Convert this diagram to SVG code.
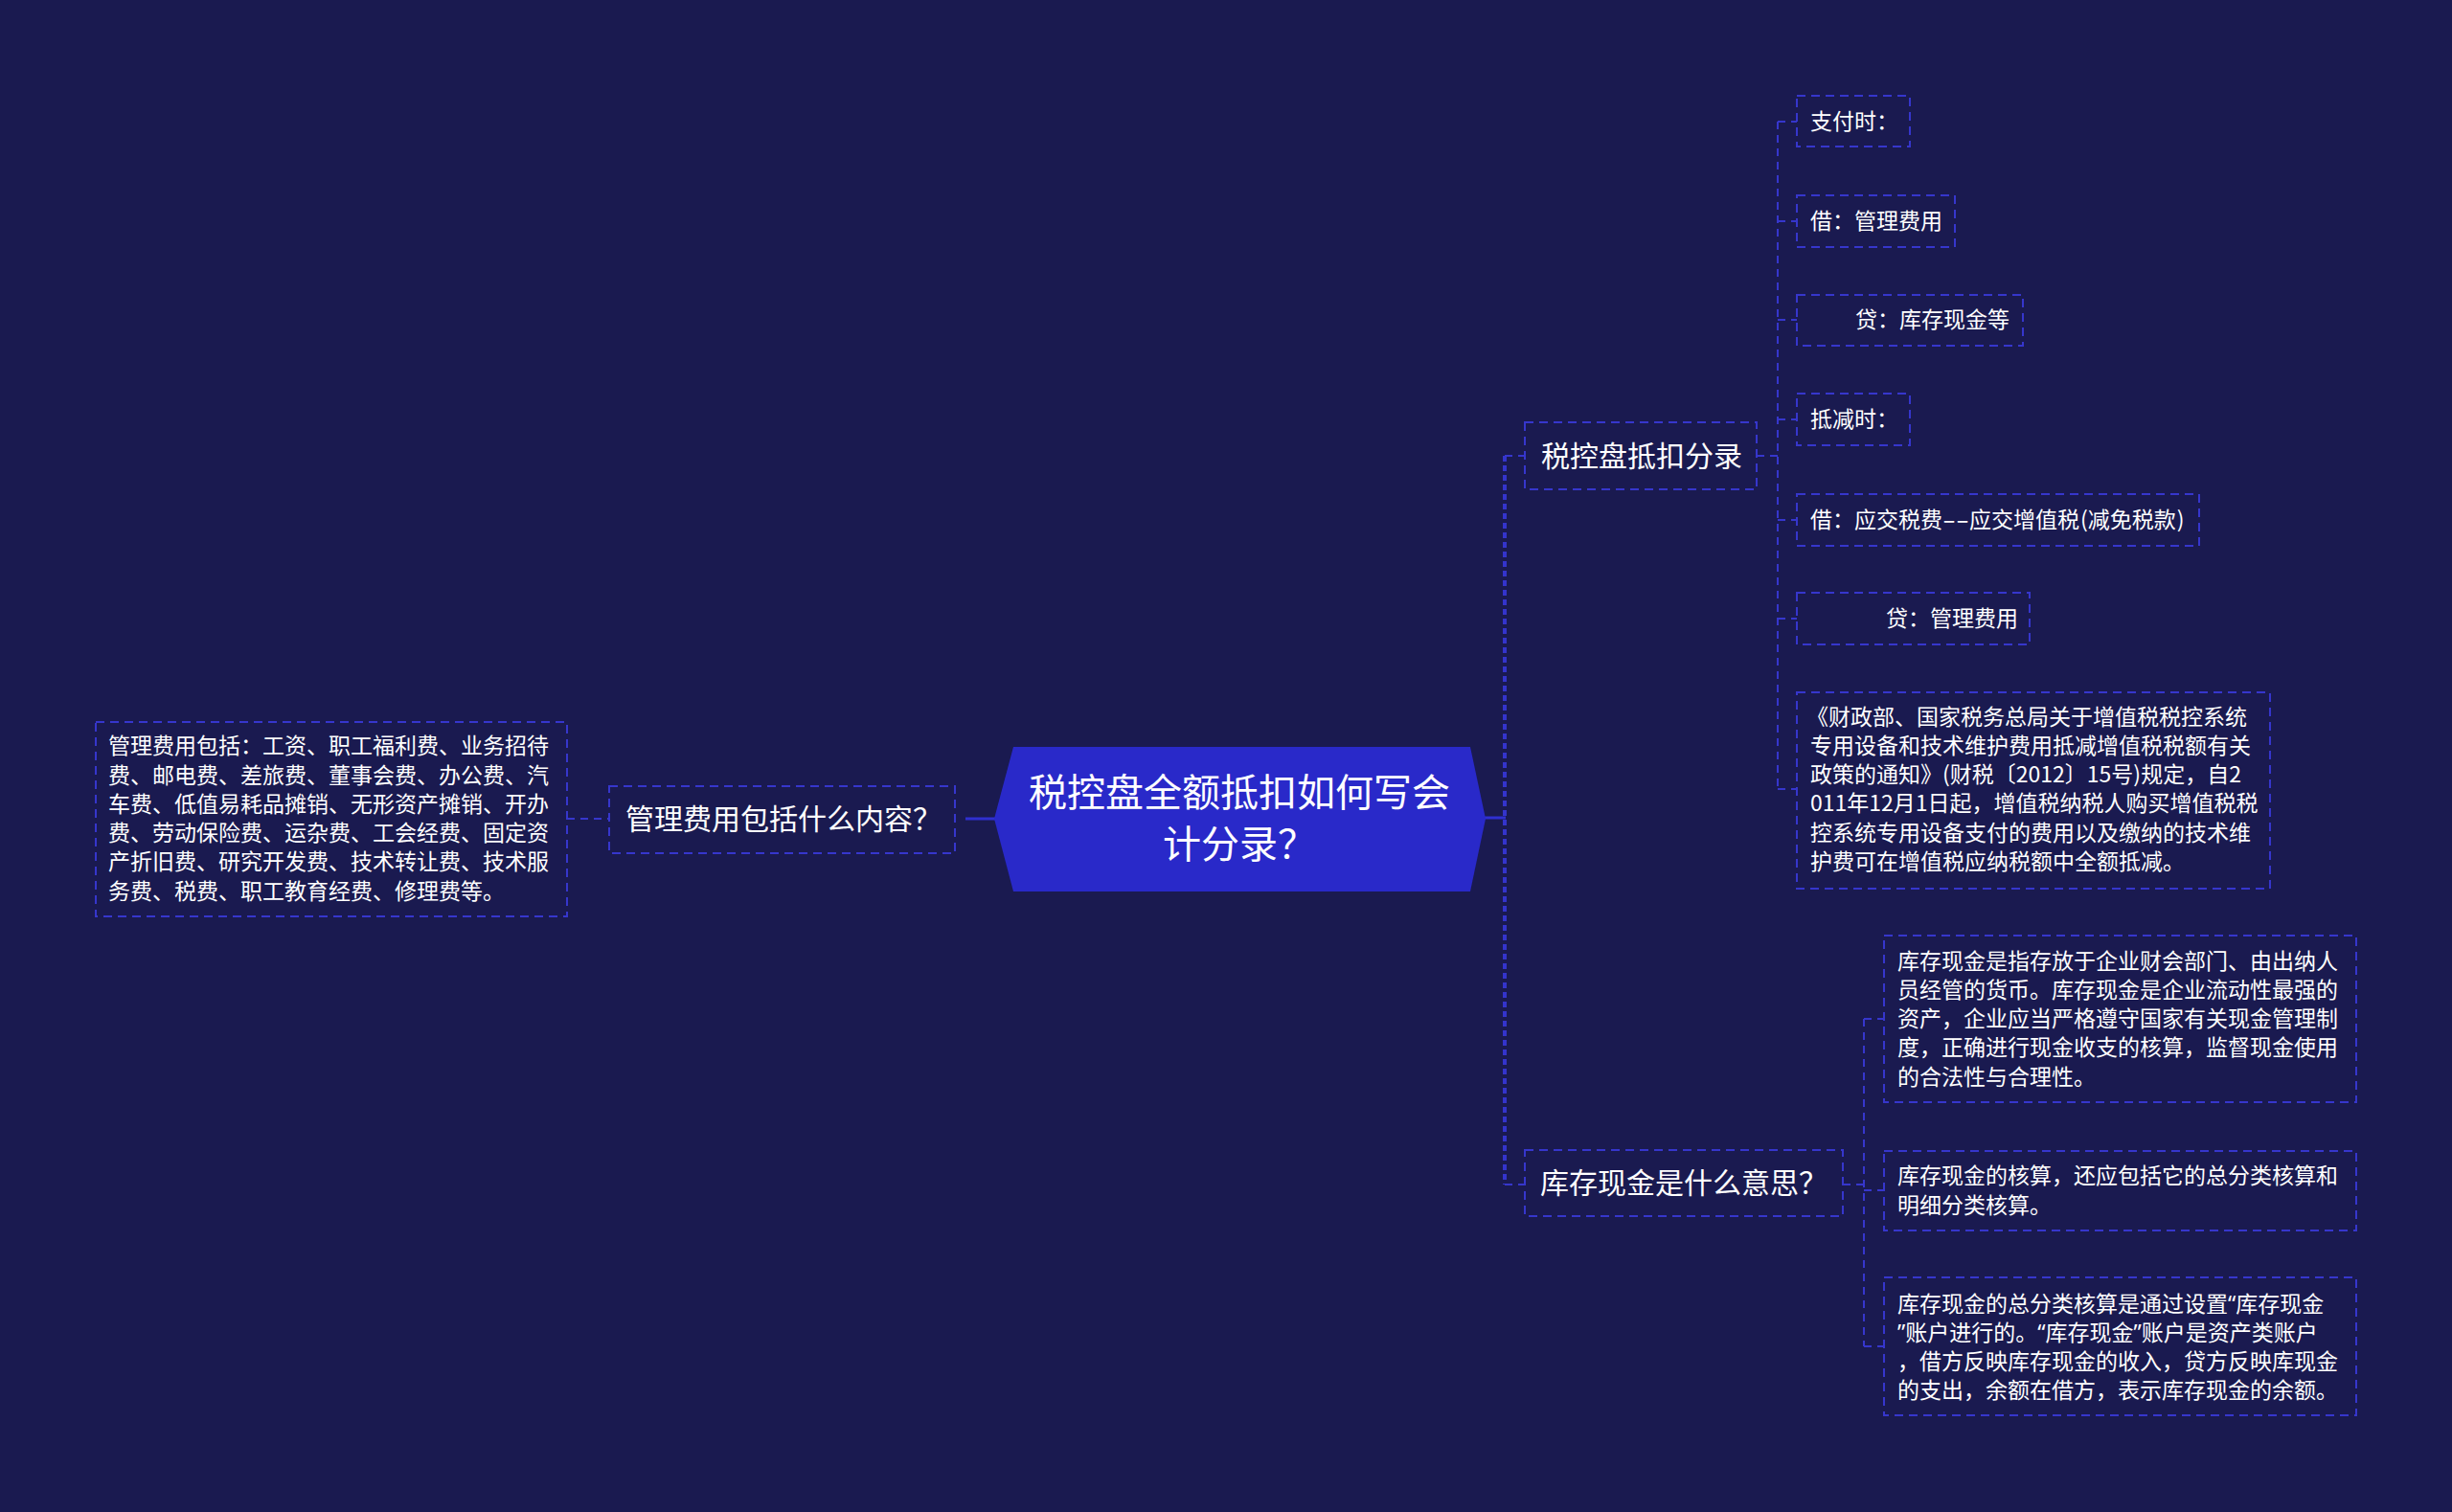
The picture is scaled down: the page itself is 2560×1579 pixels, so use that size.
<svg xmlns="http://www.w3.org/2000/svg" width="2560" height="1579" viewBox="0 0 2560 1579">
<style>
text{font-family:"Noto Sans CJK SC","Noto Sans",sans-serif;fill:#ffffff;}
.q{font-family:"Noto Sans","Liberation Sans",sans-serif;}
.box{fill:#1a1a50;stroke:#3636cc;stroke-width:2;stroke-dasharray:9 6;}
.t23{font-size:23px;}
.t30{font-size:30px;}
.t40{font-size:40px;}
.con{fill:none;stroke:#3636cc;stroke-width:2;stroke-dasharray:8 6;}
.spine{fill:none;stroke:#3434cc;stroke-width:4;stroke-dasharray:6 4;}
.solid{fill:none;stroke:#2f2fd0;stroke-width:3;}
</style>
<rect x="0" y="0" width="2560" height="1579" fill="#1a1a50"/>
<g id="connectors">
<line class="solid" x1="1008" y1="855" x2="1040" y2="855"/>
<line class="con" x1="592" y1="855" x2="636" y2="855"/>
<line class="solid" x1="1550" y1="854" x2="1572" y2="854"/>
<line class="spine" x1="1571" y1="476" x2="1571" y2="1237"/>
<line class="con" x1="1571" y1="476" x2="1592" y2="476"/>
<line class="con" x1="1571" y1="1237" x2="1592" y2="1237"/>
<line class="con" x1="1834" y1="476" x2="1856" y2="476"/>
<line class="con" x1="1856" y1="127" x2="1856" y2="824"/>
<line class="con" x1="1856" y1="127" x2="1876" y2="127"/>
<line class="con" x1="1856" y1="231" x2="1876" y2="231"/>
<line class="con" x1="1856" y1="334" x2="1876" y2="334"/>
<line class="con" x1="1856" y1="438" x2="1876" y2="438"/>
<line class="con" x1="1856" y1="543" x2="1876" y2="543"/>
<line class="con" x1="1856" y1="646" x2="1876" y2="646"/>
<line class="con" x1="1856" y1="824" x2="1876" y2="824"/>
<line class="con" x1="1924" y1="1237" x2="1946" y2="1237"/>
<line class="con" x1="1946" y1="1064" x2="1946" y2="1406"/>
<line class="con" x1="1946" y1="1064" x2="1967" y2="1064"/>
<line class="con" x1="1946" y1="1243" x2="1967" y2="1243"/>
<line class="con" x1="1946" y1="1406" x2="1967" y2="1406"/>
</g>
<g id="root">
<polygon points="1038,855 1058,780 1535,780 1551,855 1535,931 1058,931" fill="#2929c9"/>
<text class="t40" x="1294" y="842" text-anchor="middle">税控盘全额抵扣如何写会</text>
<text class="t40" x="1294" y="896" text-anchor="middle">计分录？</text>
</g>
<g id="n-guanli">
<rect class="box" x="636" y="821" width="361" height="70"/>
<text class="t30" x="653" y="866">管理费用包括什么内容？</text>
</g>
<g id="n-guanli-detail">
<rect class="box" x="100" y="754" width="492" height="203"/>
<text class="t23" x="113">
<tspan x="113" y="787">管理费用包括：工资、职工福利费、业务招待</tspan>
<tspan x="113" y="818">费、邮电费、差旅费、董事会费、办公费、汽</tspan>
<tspan x="113" y="848">车费、低值易耗品摊销、无形资产摊销、开办</tspan>
<tspan x="113" y="878">费、劳动保险费、运杂费、工会经费、固定资</tspan>
<tspan x="113" y="908">产折旧费、研究开发费、技术转让费、技术服</tspan>
<tspan x="113" y="939">务费、税费、职工教育经费、修理费等。</tspan>
</text>
</g>
<g id="n-shuikong">
<rect class="box" x="1592" y="441" width="242" height="70"/>
<text class="t30" x="1609" y="487">税控盘抵扣分录</text>
</g>
<g id="n-zhifu">
<rect class="box" x="1876" y="100" width="118" height="53"/>
<text class="t23" x="1890" y="135">支付时：</text>
</g>
<g id="n-jie1">
<rect class="box" x="1876" y="204" width="165" height="54"/>
<text class="t23" x="1890" y="239">借：管理费用</text>
</g>
<g id="n-dai1">
<rect class="box" x="1876" y="308" width="236" height="53"/>
<text class="t23" x="1937" y="342">贷：库存现金等</text>
</g>
<g id="n-dijian">
<rect class="box" x="1876" y="411" width="118" height="54"/>
<text class="t23" x="1890" y="446">抵减时：</text>
</g>
<g id="n-jie2">
<rect class="box" x="1876" y="516" width="420" height="54"/>
<text class="t23" x="1890" y="551">借：应交税费<tspan textLength="28" lengthAdjust="spacingAndGlyphs">--</tspan>应交增值税<tspan dx="1">(</tspan>减免税款<tspan dx="1">)</tspan></text>
</g>
<g id="n-dai2">
<rect class="box" x="1876" y="619" width="243" height="54"/>
<text class="t23" x="1969" y="654">贷：管理费用</text>
</g>
<g id="n-caizheng">
<rect class="box" x="1876" y="723" width="494" height="205"/>
<text class="t23">
<tspan x="1886" y="757">《财政部、国家税务总局关于增值税税控系统</tspan>
<tspan x="1890" y="787">专用设备和技术维护费用抵减增值税税额有关</tspan>
<tspan x="1890" y="817">政策的通知》(财税〔2012〕15号)规定，自2</tspan>
<tspan x="1890" y="847">011年12月1日起，增值税纳税人购买增值税税</tspan>
<tspan x="1890" y="878">控系统专用设备支付的费用以及缴纳的技术维</tspan>
<tspan x="1890" y="908">护费可在增值税应纳税额中全额抵减。</tspan>
</text>
</g>
<g id="n-kucun">
<rect class="box" x="1592" y="1201" width="332" height="69"/>
<text class="t30" x="1608" y="1246">库存现金是什么意思？</text>
</g>
<g id="n-kucun-a">
<rect class="box" x="1967" y="977" width="493" height="174"/>
<text class="t23">
<tspan x="1981" y="1012">库存现金是指存放于企业财会部门、由出纳人</tspan>
<tspan x="1981" y="1042">员经管的货币。库存现金是企业流动性最强的</tspan>
<tspan x="1981" y="1072">资产，企业应当严格遵守国家有关现金管理制</tspan>
<tspan x="1981" y="1102">度，正确进行现金收支的核算，监督现金使用</tspan>
<tspan x="1981" y="1133">的合法性与合理性。</tspan>
</text>
</g>
<g id="n-kucun-b">
<rect class="box" x="1967" y="1202" width="493" height="83"/>
<text class="t23">
<tspan x="1981" y="1236">库存现金的核算，还应包括它的总分类核算和</tspan>
<tspan x="1981" y="1267">明细分类核算。</tspan>
</text>
</g>
<g id="n-kucun-c">
<rect class="box" x="1967" y="1334" width="493" height="144"/>
<text class="t23">
<tspan x="1981" y="1370">库存现金的总分类核算是通过设置<tspan class="q">“</tspan>库存现金</tspan>
<tspan x="1981" y="1400"><tspan class="q">”</tspan>账户进行的。<tspan class="q">“</tspan>库存现金<tspan class="q">”</tspan>账户是资产类账户</tspan>
<tspan x="1981" y="1430">，借方反映库存现金的收入，贷方反映库现金</tspan>
<tspan x="1981" y="1460">的支出，余额在借方，表示库存现金的余额。</tspan>
</text>
</g>
</svg>
